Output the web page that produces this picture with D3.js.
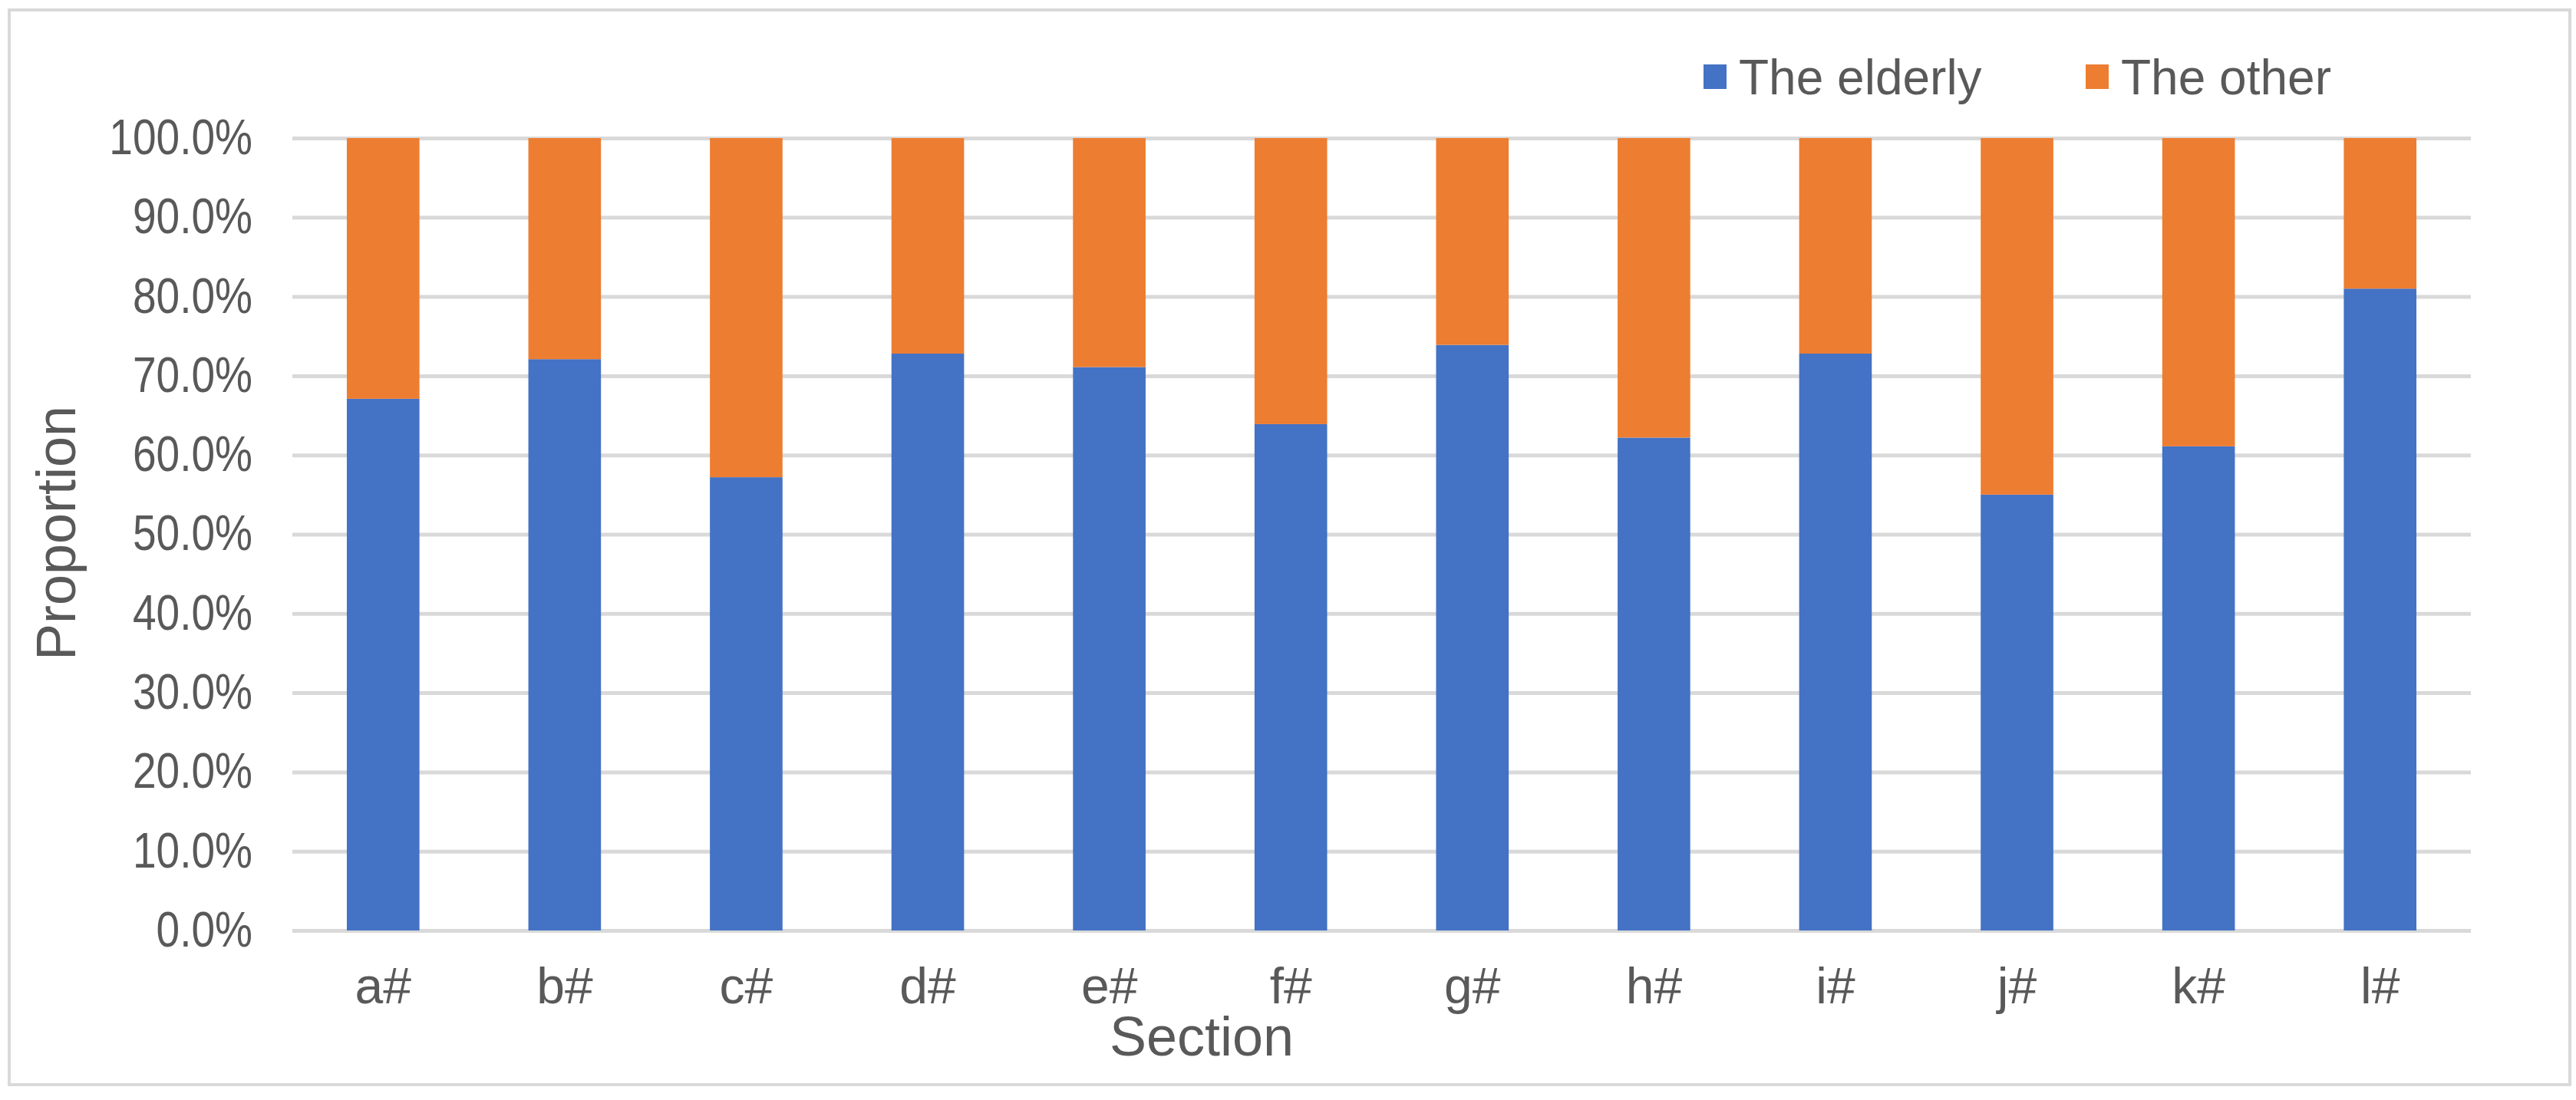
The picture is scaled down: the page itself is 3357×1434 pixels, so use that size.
<!DOCTYPE html>
<html>
<head>
<meta charset="utf-8">
<script src="https://cdn.jsdelivr.net/npm/d3@7"></script>
<style>
  body { margin: 0; background: #fff; }
  svg { display: block; font-family: "Liberation Sans", Arial, sans-serif; }
</style>
</head>
<body>
<svg id="chart"></svg>
<script>
const width = 3357, height = 1434;

// data
const sections = ["a#", "b#", "c#", "d#", "e#", "f#", "g#", "h#", "i#", "j#", "k#", "l#"];
const elderly = [67.1, 72.1, 57.2, 72.8, 71.1, 63.9, 73.9, 62.2, 72.8, 55.0, 61.1, 81.0];
const other = elderly.map(v => 100 - v);
const seriesNames = ["The elderly", "The other"];
const colors = ["#4472C4", "#ED7D31"];
const yTicks = [0, 10, 20, 30, 40, 50, 60, 70, 80, 90, 100];

const margin = {top: 180, right: 137, bottom: 221, left: 381};
const w = width - margin.left - margin.right;
const h = height - margin.top - margin.bottom;

const svg = d3.select("#chart")
    .attr("width", width)
    .attr("height", height);

// chart frame
svg.append("rect")
    .attr("x", 12).attr("y", 13)
    .attr("width", 3337).attr("height", 1401)
    .attr("fill", "#fff")
    .attr("stroke", "#d9d9d9")
    .attr("stroke-width", 4);

const g = svg.append("g").attr("transform", `translate(${margin.left},${margin.top})`);

const x = d3.scaleBand()
    .domain(sections)
    .range([0, w])
    .paddingInner(0.6)
    .paddingOuter(0.3);

const y = d3.scaleLinear()
    .domain([0, 100])
    .range([h, 0]);

// y axis + gridlines
const yAxis = g.append("g")
    .call(d3.axisLeft(y)
        .tickValues(yTicks)
        .tickSize(-w)
        .tickPadding(52)
        .tickFormat(d => d.toFixed(1) + "%"));
yAxis.select(".domain").remove();
yAxis.selectAll(".tick line")
    .attr("stroke", "#d9d9d9")
    .attr("stroke-width", 5);
yAxis.selectAll(".tick text")
    .attr("fill", "#595959")
    .style("font-size", "64px")
    .each(function() {
        const len = this.getComputedTextLength();
        d3.select(this).attr("textLength", len * 0.86).attr("lengthAdjust", "spacingAndGlyphs");
    });

// stacked bars
const rows = sections.map((s, i) => ({section: s, elderly: elderly[i], other: other[i]}));
const stack = d3.stack().keys(["elderly", "other"]);
const layers = stack(rows);

g.selectAll(".layer")
    .data(layers)
    .enter().append("g")
    .attr("class", "layer")
    .attr("fill", (d, i) => colors[i])
    .selectAll("rect")
    .data(d => d)
    .enter().append("rect")
    .attr("x", d => x(d.data.section))
    .attr("y", d => y(d[1]))
    .attr("width", x.bandwidth())
    .attr("height", d => y(d[0]) - y(d[1]));

// x axis
const xAxis = g.append("g")
    .attr("transform", `translate(0,${h})`)
    .call(d3.axisBottom(x).tickSize(0).tickPadding(48));
xAxis.select(".domain").remove();
xAxis.selectAll(".tick text")
    .attr("fill", "#595959")
    .style("font-size", "66px");

// axis titles
svg.append("text")
    .attr("transform", "translate(98,695) rotate(-90)")
    .attr("text-anchor", "middle")
    .attr("fill", "#595959")
    .style("font-size", "72px")
    .text("Proportion");

// title sits left of the plot centre in the original
svg.append("text")
    .attr("x", 1566)
    .attr("y", 1376)
    .attr("text-anchor", "middle")
    .attr("fill", "#595959")
    .style("font-size", "72px")
    .text("Section");

// legend
const legendX = [2220, 2718];
const legend = svg.selectAll(".legend")
    .data(seriesNames)
    .enter().append("g")
    .attr("class", "legend")
    .attr("transform", (d, i) => `translate(${legendX[i]},0)`);
legend.append("rect")
    .attr("x", 0).attr("y", 84)
    .attr("width", 30).attr("height", 32)
    .attr("fill", (d, i) => colors[i]);
legend.append("text")
    .attr("x", 46).attr("y", 123)
    .attr("fill", "#595959")
    .style("font-size", "64px")
    .text(d => d);
</script>
</body>
</html>
